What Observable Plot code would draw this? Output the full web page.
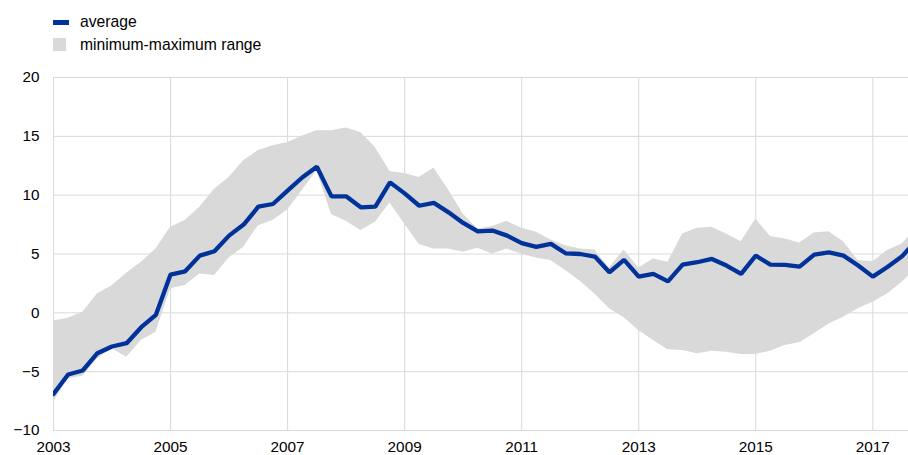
<!DOCTYPE html>
<html>
<head>
<meta charset="utf-8">
<script src="https://cdn.jsdelivr.net/npm/d3@7"></script>
<script src="https://cdn.jsdelivr.net/npm/@observablehq/plot@0.6"></script>
<style>
  html, body { margin: 0; padding: 0; background: #fff; }
  body { width: 908px; height: 455px; overflow: hidden; font-family: Arial, "Liberation Sans", sans-serif; color: #000; }
  #legend { position: relative; height: 60px; width: 908px; font-size: 15.7px; }
  #legend .sw-line { position: absolute; left: 53px; top: 20px; width: 16px; height: 5px; background: #003299; }
  #legend .sw-box { position: absolute; left: 53px; top: 38px; width: 13px; height: 13px; background: #d9d9d9; }
  #legend .lab { position: absolute; left: 80px; line-height: 16px; }
  #chart svg { display: block; }
</style>
</head>
<body>
<div id="legend">
  <div class="sw-line"></div><div class="lab" style="top:14px">average</div>
  <div class="sw-box"></div><div class="lab" style="top:37px">minimum-maximum range</div>
</div>
<div id="chart"></div>
<script>
const periods = [
  2003.0, 2003.25, 2003.5, 2003.75, 2004.0, 2004.25, 2004.5, 2004.75,
  2005.0, 2005.25, 2005.5, 2005.75, 2006.0, 2006.25, 2006.5, 2006.75,
  2007.0, 2007.25, 2007.5, 2007.75, 2008.0, 2008.25, 2008.5, 2008.75,
  2009.0, 2009.25, 2009.5, 2009.75, 2010.0, 2010.25, 2010.5, 2010.75,
  2011.0, 2011.25, 2011.5, 2011.75, 2012.0, 2012.25, 2012.5, 2012.75,
  2013.0, 2013.25, 2013.5, 2013.75, 2014.0, 2014.25, 2014.5, 2014.75,
  2015.0, 2015.25, 2015.5, 2015.75, 2016.0, 2016.25, 2016.5, 2016.75,
  2017.0, 2017.25, 2017.5, 2017.75
];
const average = [
  -6.9, -5.24, -4.9, -3.43, -2.86, -2.58, -1.22, -0.17,
  3.25, 3.53, 4.86, 5.23, 6.56, 7.5, 9.02, 9.25,
  10.38, 11.5, 12.42, 9.9, 9.9, 8.97, 9.02, 11.09,
  10.15, 9.1, 9.34, 8.54, 7.64, 6.93, 6.99, 6.56,
  5.92, 5.6, 5.86, 5.06, 5.0, 4.78, 3.45, 4.5,
  3.08, 3.31, 2.68, 4.1, 4.3, 4.58, 4.02, 3.31,
  4.86, 4.1, 4.07, 3.93, 4.95, 5.14, 4.86, 4.02,
  3.08, 3.9, 4.8, 6.2
];
const maximum = [
  -0.7, -0.46, 0.05, 1.6, 2.3, 3.36, 4.3, 5.43,
  7.27, 7.84, 8.97, 10.5, 11.5, 12.93, 13.8, 14.2,
  14.48, 15.0, 15.48, 15.48, 15.7, 15.33, 14.06, 12.02,
  11.85, 11.51, 12.3, 10.44, 8.4, 7.13, 7.33, 7.78,
  7.18, 6.84, 6.2, 5.71, 5.43, 5.35, 3.82, 5.35,
  3.82, 4.58, 4.3, 6.7, 7.18, 7.27, 6.7, 6.05,
  7.98, 6.48, 6.28, 5.94, 6.79, 6.9, 6.05, 4.44,
  4.35, 5.29, 5.86, 7.2
];
const minimum = [
  -7.6, -5.6, -5.4, -3.9, -3.06, -3.77, -2.35, -1.64,
  2.04, 2.32, 3.31, 3.17, 4.67, 5.57, 7.41, 7.84,
  8.75, 10.4, 12.08, 8.35, 7.78, 6.99, 7.69, 9.34,
  7.56, 5.8, 5.43, 5.43, 5.14, 5.48, 5.0, 5.43,
  4.97, 4.67, 4.44, 3.59, 2.68, 1.61, 0.34, -0.42,
  -1.5, -2.35, -3.14, -3.2, -3.48, -3.26, -3.34, -3.54,
  -3.54, -3.26, -2.78, -2.55, -1.78, -0.94, -0.37, 0.34,
  0.9, 1.61, 2.6, 3.8
];
const xTicks = [2003, 2005, 2007, 2009, 2011, 2013, 2015, 2017];
const yTicks = [-10, -5, 0, 5, 10, 15, 20];

const data = periods.map((t, i) => ({t, avg: average[i], lo: minimum[i], hi: maximum[i]}));

const chart = Plot.plot({
  width: 908,
  height: 395,
  marginTop: 17,
  marginBottom: 25,
  marginLeft: 53,
  marginRight: 0,
  style: {fontFamily: "Arial, 'Liberation Sans', sans-serif", fontSize: "15.3px", color: "#000", background: "#fff"},
  x: {domain: [2003, 2017.61], label: null},
  y: {domain: [-10, 20], label: null},
  marks: [
    Plot.gridX(xTicks, {stroke: "#d9d9d9", strokeOpacity: 1, strokeWidth: 1}),
    Plot.gridY(yTicks, {stroke: "#d9d9d9", strokeOpacity: 1, strokeWidth: 1}),
    Plot.areaY(data, {x: "t", y1: "lo", y2: "hi", fill: "#d9d9d9", clip: true}),
    Plot.lineY(data, {x: "t", y: "avg", stroke: "#003299", strokeWidth: 4.3, strokeLinejoin: "miter", clip: true}),
    Plot.axisX({ticks: xTicks, tickFormat: d => String(d), tickSize: 0, tickPadding: 10.5, fill: "#000"}),
    Plot.axisY({ticks: yTicks, tickSize: 0, tickPadding: 14, fill: "#000"})
  ]
});
document.getElementById("chart").appendChild(chart);
</script>
</body>
</html>
